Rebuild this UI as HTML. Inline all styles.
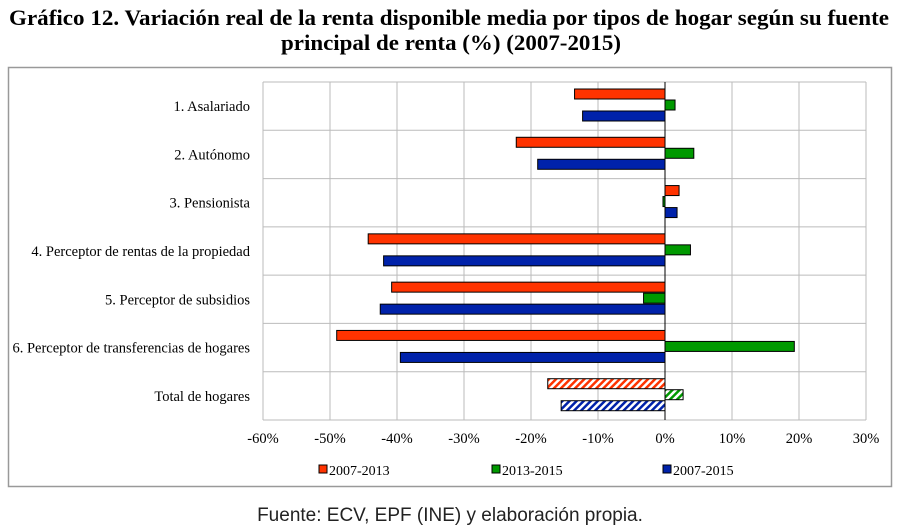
<!DOCTYPE html>
<html><head><meta charset="utf-8"><style>
body{margin:0;background:#fff;width:903px;height:532px;overflow:hidden}
svg{display:block}
</style></head><body>
<svg id="chart" width="903" height="532" xmlns="http://www.w3.org/2000/svg">
<defs>
<pattern id="hr" patternUnits="userSpaceOnUse" width="5" height="5" patternTransform="rotate(45)"><rect width="5" height="5" fill="#fff"/><rect width="2.5" height="5" fill="#ff3300"/></pattern>
<pattern id="hg" patternUnits="userSpaceOnUse" width="5" height="5" patternTransform="rotate(45)"><rect width="5" height="5" fill="#fff"/><rect width="2.5" height="5" fill="#009900"/></pattern>
<pattern id="hb" patternUnits="userSpaceOnUse" width="5" height="5" patternTransform="rotate(45)"><rect width="5" height="5" fill="#fff"/><rect width="2.5" height="5" fill="#0022aa"/></pattern>
</defs>
<text x="449" y="25" text-anchor="middle" font-family="Liberation Serif, serif" font-weight="bold" font-size="22" textLength="880" lengthAdjust="spacingAndGlyphs">Gráfico 12. Variación real de la renta disponible media por tipos de hogar según su fuente</text>
<text x="451" y="50" text-anchor="middle" font-family="Liberation Serif, serif" font-weight="bold" font-size="22" textLength="340" lengthAdjust="spacingAndGlyphs">principal de renta (%) (2007-2015)</text>
<rect x="8.5" y="67.5" width="883" height="419" fill="none" stroke="#999" stroke-width="1.5"/>
<g id="grid"></g><g id="bars"></g><g id="labels"></g>
<g font-family="Liberation Serif, serif" font-size="14">
<rect x="319" y="465" width="8" height="8" fill="#ff3300" stroke="#000"/>
<text x="329" y="475">2007-2013</text>
<rect x="492" y="465" width="8" height="8" fill="#009900" stroke="#000"/>
<text x="502" y="475">2013-2015</text>
<rect x="663" y="465" width="8" height="8" fill="#0022aa" stroke="#000"/>
<text x="673" y="475">2007-2015</text>
</g>
<text x="450" y="521" text-anchor="middle" font-family="Liberation Sans, sans-serif" font-size="19" fill="#222">Fuente: ECV, EPF (INE) y elaboración propia.</text>
</svg>
<script>
const categories=["1. Asalariado","2. Autónomo","3. Pensionista","4. Perceptor de rentas de la propiedad","5. Perceptor de subsidios","6. Perceptor de transferencias de hogares","Total de hogares"];
const s2007_2013=[-13.5,-22.2,2.1,-44.3,-40.8,-49,-17.5];
const s2013_2015=[1.5,4.3,-0.3,3.8,-3.2,19.3,2.7];
const s2007_2015=[-12.3,-19,1.8,-42,-42.5,-39.5,-15.5];
const ticks=[-60,-50,-40,-30,-20,-10,0,10,20,30];
const NS="http://www.w3.org/2000/svg";
const L=263,R=866,T=82,B=420;
const xs=v=>L+(v+60)/90*(R-L);
const rowH=(B-T)/categories.length;
function mk(tag,attrs,parent){const e=document.createElementNS(NS,tag);for(const k in attrs)e.setAttribute(k,attrs[k]);parent.appendChild(e);return e;}
const grid=document.getElementById('grid'),bars=document.getElementById('bars'),labels=document.getElementById('labels');
ticks.forEach(t=>{
 const g=mk('line',{x1:xs(t),x2:xs(t),y1:T,y2:B,stroke:'#bbb','stroke-width':1},grid);
 
 
 const tx=mk('text',{x:xs(t),y:443,'text-anchor':'middle','font-family':'Liberation Serif, serif','font-size':14.5},labels);
 tx.textContent=t+'%';
 
 
});
for(let i=0;i<=categories.length;i++){
 const g=mk('line',{x1:L,x2:R,y1:T+i*rowH,y2:T+i*rowH,stroke:'#bbb','stroke-width':1},grid);
 
 
}
const series=[[s2007_2013,'#ff3300','url(#hr)','2007-2013'],[s2013_2015,'#009900','url(#hg)','2013-2015'],[s2007_2015,'#0022aa','url(#hb)','2007-2015']];
categories.forEach((c,i)=>{
 const top=T+i*rowH;
 const tx=mk('text',{x:250,y:top+rowH/2+5,'text-anchor':'end','font-family':'Liberation Serif, serif','font-size':14.5},labels);
 tx.textContent=c;
 
 
 series.forEach((s,j)=>{
  const v=s[0][i];const x0=xs(0),x1=xs(v);
  const hatched=i===categories.length-1;
  const r=mk('rect',{x:Math.min(x0,x1),y:top+7+j*11,width:Math.max(Math.abs(x1-x0),1),height:10,fill:hatched?s[2]:s[1],stroke:'#000','stroke-width':1},bars);
  
  
 });
});
const z=mk('line',{x1:xs(0),x2:xs(0),y1:T,y2:B,stroke:'#000','stroke-width':1},bars);


</script>
</body></html>
